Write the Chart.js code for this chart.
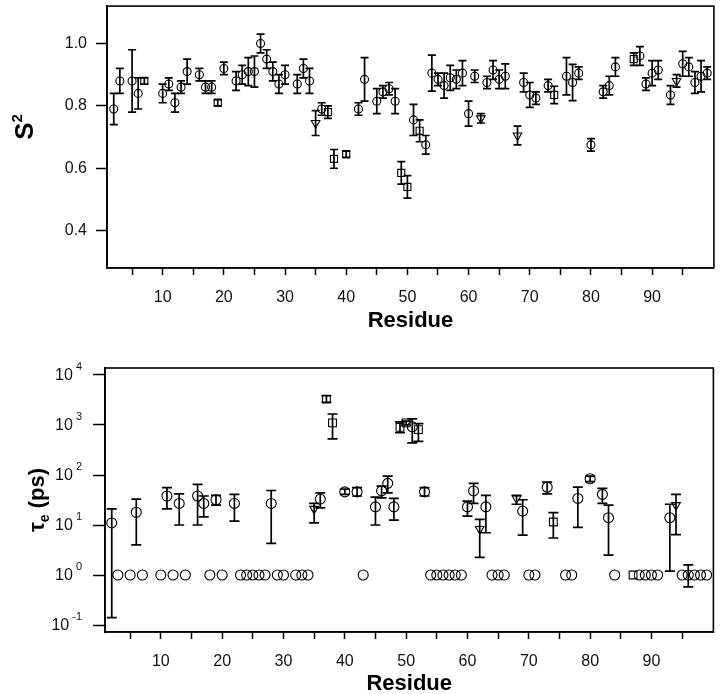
<!DOCTYPE html>
<html>
<head>
<meta charset="utf-8">
<script src="https://cdn.jsdelivr.net/npm/chart.js@4"></script>
<style>
  html, body { margin: 0; padding: 0; background: #fff; }
  canvas { display: block; }
</style>
</head>
<body>
<canvas id="s2Chart" width="720" height="340"></canvas>
<canvas id="tauChart" width="720" height="354"></canvas>
<script>
// ---- S2 panel (top), one set of arrays per marker shape ----
const s2CircRes = [2, 3, 5, 6, 10, 11, 12, 13, 14, 16, 17, 18, 20,
  22, 23, 24, 25, 26, 27, 28, 29, 30, 32, 33, 34, 36, 42, 43, 45, 46, 47, 48, 51,
  53, 54, 55, 56, 57, 58, 59, 60, 61, 63, 64, 65, 66, 69, 70, 71, 73,
  76, 77, 78, 80, 82, 83, 84, 88, 89, 90, 91, 93, 95, 96, 97, 98, 99];
const s2CircVal = [0.79, 0.88, 0.88, 0.84, 0.84, 0.87, 0.81, 0.86, 0.91, 0.90, 0.86, 0.86, 0.92,
  0.88, 0.90, 0.91, 0.91, 1.00, 0.95, 0.91, 0.87, 0.90, 0.87, 0.92, 0.88, 0.79, 0.79, 0.885, 0.815, 0.845, 0.855, 0.815, 0.755,
  0.675, 0.905, 0.885, 0.865, 0.89, 0.885, 0.905, 0.775, 0.895, 0.875, 0.915, 0.885, 0.895, 0.875, 0.835, 0.825, 0.865,
  0.895, 0.875, 0.905, 0.675, 0.845, 0.865, 0.925, 0.96, 0.87, 0.905, 0.915, 0.835, 0.935, 0.925, 0.875, 0.895, 0.905];
const s2CircErr = [0.05, 0.04, 0.10, 0.05, 0.03, 0.02, 0.03, 0.02, 0.04, 0.02, 0.02, 0.02, 0.02,
  0.03, 0.03, 0.045, 0.05, 0.03, 0.03, 0.03, 0.03, 0.03, 0.03, 0.03, 0.04, 0.02, 0.02, 0.07, 0.04, 0.02, 0.02, 0.04, 0.05,
  0.03, 0.058, 0.02, 0.04, 0.04, 0.03, 0.04, 0.04, 0.02, 0.02, 0.03, 0.03, 0.04, 0.03, 0.04, 0.02, 0.02,
  0.06, 0.058, 0.02, 0.02, 0.02, 0.03, 0.03, 0.03, 0.02, 0.04, 0.03, 0.03, 0.04, 0.03, 0.035, 0.05, 0.02];

const s2SqRes = [7, 19, 37, 38, 40, 49, 50, 52, 74, 87];
const s2SqVal = [0.88, 0.81, 0.78, 0.63, 0.645, 0.585, 0.54, 0.72, 0.835, 0.95];
const s2SqErr = [0.01, 0.01, 0.02, 0.03, 0.01, 0.036, 0.036, 0.035, 0.028, 0.02];

const s2TriRes = [35, 62, 68, 94];
const s2TriVal = [0.745, 0.76, 0.705, 0.88];
const s2TriErr = [0.04, 0.015, 0.03, 0.02];

// ---- tau_e panel (bottom), lower/upper bounds of the error bars (null = none) ----
const tauCircRes = [2, 3, 5, 6, 7, 10, 11, 12, 13, 14, 16, 17, 18, 19, 20,
  22, 23, 24, 25, 26, 27, 28, 29, 30, 32, 33, 34, 36, 40, 42, 43, 45, 46, 47, 48, 51,
  53, 54, 55, 56, 57, 58, 59, 60, 61, 63, 64, 65, 66, 69, 70, 71, 73,
  76, 77, 78, 80, 82, 83, 84, 88, 89, 90, 91, 93, 95, 96, 97, 98, 99];
const tauCircVal = [11, 1, 1, 18, 1, 1, 38, 1, 27, 1, 38, 27, 1, 32, 1,
  27, 1, 1, 1, 1, 1, 27, 1, 1, 1, 1, 1, 33, 46, 46, 1, 23, 48, 68, 23, 920,
  46, 1, 1, 1, 1, 1, 1, 23, 48, 23, 1, 1, 1, 19, 1, 1, 57,
  1, 1, 34, 84, 41, 14, 1, 1, 1, 1, 1, 14, 1, 1, 1, 1, 1];
const tauCircLo = [0.14, null, null, 4, null, null, 21, null, 10, null, 10, 14.5, null, 25, null,
  12, null, null, null, null, null, 4.3, null, null, null, null, null, 22, 41, 38, null, 10, 35, 44, 12.5, 440,
  38, null, null, null, null, null, null, 15, 27, 7, null, null, null, 6.3, null, null, 42,
  null, null, 9, 74, 27, 2.5, null, null, null, null, null, 1.2, null, 0.58, null, null, null];
const tauCircHi = [21, null, null, 33, null, null, 56, null, 42, null, 65, 38, null, 39, null,
  41, null, null, null, null, null, 49, null, null, null, null, null, 44, 52, 56, null, 36, 60, 95, 34, 1320,
  56, null, null, null, null, null, null, 30, 68, 39, null, null, null, 32, null, null, 72,
  null, null, 57, 95, 54, 25, null, null, null, null, null, 26, null, 1.6, null, null, null];

const tauSqRes = [37, 38, 49, 50, 52, 74, 87];
const tauSqVal = [3300, 1100, 900, 1100, 810, 11.5, 1];
const tauSqLo = [2850, 530, 700, 1000, 470, 5.5, null];
const tauSqHi = [3850, 1660, 1150, 1200, 1070, 17.7, null];

const tauTriRes = [35, 62, 68, 94];
const tauTriVal = [21, 8.3, 34, 25];
const tauTriLo = [11, 2.25, 26, 6.4];
const tauTriHi = [27, 13, 39, 41];

// axis ticks
const residueTicks = [5, 10, 15, 20, 25, 30, 35, 40, 45, 50, 55, 60, 65, 70, 75, 80, 85, 90, 95];
const s2Ticks = [0.4, 0.6, 0.8, 1.0];
const tauExponents = [-1, 0, 1, 2, 3, 4];

const FONT = "'Liberation Sans', Arial, Helvetica, sans-serif";

function makeSet(res, val, lo, hi, style, radius) {
  return {
    data: res.map((r, i) => ({ x: r, y: val[i] })),
    lo: lo, hi: hi,
    showLine: false,
    pointStyle: style,
    pointRotation: style === 'triangle' ? 180 : 0,
    pointRadius: radius,
    pointHoverRadius: radius,
    pointBorderColor: '#000',
    pointBackgroundColor: 'rgba(0,0,0,0)',
    pointBorderWidth: 1.1
  };
}

// no extra room around the axes, the plot box is set by afterFit
function noPad(s) {
  s.paddingTop = 0;
  s.paddingBottom = 0;
  s.paddingLeft = 0;
  s.paddingRight = 0;
}

// draws the vertical error bars through the library scales
const errorBars = {
  id: 'errorBars',
  afterDatasetsDraw(chart, args, opts) {
    const ctx = chart.ctx;
    const xs = chart.scales.x, ys = chart.scales.y;
    ctx.save();
    ctx.strokeStyle = '#000';
    ctx.lineWidth = 1.7;
    chart.data.datasets.forEach(ds => {
      ds.data.forEach((p, i) => {
        if (ds.lo[i] == null) return;
        const x = xs.getPixelForValue(p.x);
        const y1 = ys.getPixelForValue(ds.lo[i]);
        const y2 = ys.getPixelForValue(ds.hi[i]);
        ctx.beginPath();
        ctx.moveTo(x, y1); ctx.lineTo(x, y2);
        ctx.moveTo(x - opts.cap, y1); ctx.lineTo(x + opts.cap, y1);
        ctx.moveTo(x - opts.cap, y2); ctx.lineTo(x + opts.cap, y2);
        ctx.stroke();
      });
    });
    ctx.restore();
  }
};

// box around the plot area
const frame = {
  id: 'frame',
  afterDraw(chart) {
    const a = chart.chartArea, ctx = chart.ctx;
    ctx.save();
    ctx.strokeStyle = '#000';
    ctx.lineWidth = 1.6;
    ctx.strokeRect(a.left, a.top, a.right - a.left, a.bottom - a.top);
    ctx.restore();
  }
};

function xTitle(chart, baseline) {
  const a = chart.chartArea, ctx = chart.ctx;
  ctx.save();
  ctx.fillStyle = '#000';
  ctx.font = 'bold 22px ' + FONT;
  ctx.textAlign = 'center';
  ctx.textBaseline = 'alphabetic';
  ctx.fillText('Residue', (a.left + a.right) / 2, baseline);
  ctx.restore();
}

// rotated y title made of pieces: [text, font, raise]
function yTitle(ctx, x, y, parts) {
  ctx.save();
  ctx.translate(x, y);
  ctx.rotate(-Math.PI / 2);
  ctx.fillStyle = '#000';
  ctx.textBaseline = 'alphabetic';
  ctx.textAlign = 'left';
  let total = 0;
  parts.forEach(p => { ctx.font = p[1]; total += ctx.measureText(p[0]).width; });
  let cx = -total / 2;
  parts.forEach(p => {
    ctx.font = p[1];
    ctx.fillText(p[0], cx, -p[2]);
    cx += ctx.measureText(p[0]).width;
  });
  ctx.restore();
}

function xScaleOpts(height, pad) {
  return {
    type: 'linear',
    min: 0.9,
    max: 100.1,
    afterFit: s => { s.height = height; noPad(s); },
    afterBuildTicks: s => { s.ticks = residueTicks.map(v => ({ value: v })); },
    ticks: {
      autoSkip: false,
      maxRotation: 0,
      padding: pad,
      color: '#111',
      font: { family: FONT, size: 16 },
      callback: v => (v % 10 === 0 ? String(v) : '')
    },
    grid: { drawOnChartArea: false, tickLength: 7, tickColor: '#000', tickWidth: 1.5 },
    border: { color: '#000', width: 1.6 }
  };
}

// ---- top chart ----
new Chart(document.getElementById('s2Chart'), {
  type: 'scatter',
  data: {
    datasets: [
      makeSet(s2CircRes, s2CircVal, s2CircVal.map((v, i) => v - s2CircErr[i]), s2CircVal.map((v, i) => v + s2CircErr[i]), 'circle', 4),
      makeSet(s2SqRes, s2SqVal, s2SqVal.map((v, i) => v - s2SqErr[i]), s2SqVal.map((v, i) => v + s2SqErr[i]), 'rect', 5),
      makeSet(s2TriRes, s2TriVal, s2TriVal.map((v, i) => v - s2TriErr[i]), s2TriVal.map((v, i) => v + s2TriErr[i]), 'triangle', 5)
    ]
  },
  options: {
    responsive: false,
    animation: false,
    layout: { padding: { top: 3, right: 3, left: 0, bottom: 0 } },
    plugins: { legend: { display: false }, tooltip: { enabled: false }, errorBars: { cap: 4 } },
    scales: {
      x: xScaleOpts(72, 13),
      y: {
        min: 0.28,
        max: 1.12,
        afterFit: s => { s.width = 107; noPad(s); },
        afterBuildTicks: s => { s.ticks = s2Ticks.map(v => ({ value: v })); },
        ticks: { padding: 9, color: '#111', font: { family: FONT, size: 16 }, callback: v => v.toFixed(1) },
        grid: { drawOnChartArea: false, tickLength: 11, tickColor: '#000', tickWidth: 1.5 },
        border: { color: '#000', width: 1.6 }
      }
    }
  },
  plugins: [errorBars, frame, {
    id: 'titles',
    afterDraw(chart) {
      xTitle(chart, 327);
      yTitle(chart.ctx, 33, 127, [['S', 'bold 26px ' + FONT, 0], ['2', 'bold 15px ' + FONT, 11]]);
    }
  }]
});

// ---- bottom chart ----
new Chart(document.getElementById('tauChart'), {
  type: 'scatter',
  data: {
    datasets: [
      makeSet(tauCircRes, tauCircVal, tauCircLo, tauCircHi, 'circle', 5),
      makeSet(tauSqRes, tauSqVal, tauSqLo, tauSqHi, 'rect', 5.5),
      makeSet(tauTriRes, tauTriVal, tauTriLo, tauTriHi, 'triangle', 5)
    ]
  },
  options: {
    responsive: false,
    animation: false,
    layout: { padding: { top: 28, right: 6, left: 0, bottom: 0 } },
    plugins: { legend: { display: false }, tooltip: { enabled: false }, errorBars: { cap: 5 } },
    scales: {
      x: xScaleOpts(62, 13),
      y: {
        type: 'logarithmic',
        min: Math.pow(10, -1.14),
        max: Math.pow(10, 4.14),
        afterFit: s => { s.width = 105; noPad(s); },
        afterBuildTicks: s => { s.ticks = tauExponents.map(e => ({ value: Math.pow(10, e) })); },
        ticks: { autoSkip: false, callback: () => '' },
        grid: { drawOnChartArea: false, tickLength: 12, tickColor: '#000', tickWidth: 1.5 },
        border: { color: '#000', width: 1.6 }
      }
    }
  },
  plugins: [errorBars, frame, {
    id: 'titles',
    afterDraw(chart) {
      const ctx = chart.ctx, ys = chart.scales.y;
      ctx.save();
      ctx.fillStyle = '#111';
      tauExponents.forEach(e => {
        const y = ys.getPixelForValue(Math.pow(10, e));
        const sup = e < 0 ? '-' + Math.abs(e) : String(e);
        ctx.font = '11px ' + FONT;
        const w = ctx.measureText(sup).width;
        ctx.textAlign = 'left';
        ctx.textBaseline = 'middle';
        ctx.fillText(sup, 82 - w, y - 8);
        ctx.font = '16px ' + FONT;
        ctx.textAlign = 'right';
        ctx.fillText('10', 82 - w - 3, y + 1);
      });
      ctx.restore();
      xTitle(chart, 350);
      yTitle(ctx, 44, 160, [['\u03C4', 'bold 22px ' + FONT, 0], ['e', 'bold 14px ' + FONT, -5], [' (ps)', 'bold 22px ' + FONT, 0]]);
    }
  }]
});
</script>
</body>
</html>
